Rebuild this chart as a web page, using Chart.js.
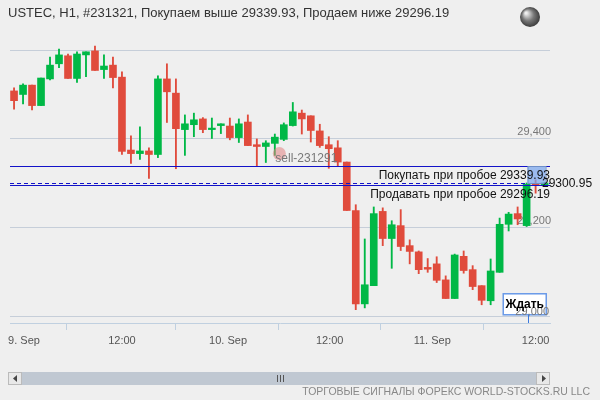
<!DOCTYPE html>
<html><head><meta charset="utf-8">
<script src="https://cdn.jsdelivr.net/npm/chart.js@4.4.1/dist/chart.umd.min.js"></script>
<style>html,body{margin:0;padding:0;background:#efefef}#w{width:600px;height:400px;position:relative}</style>
</head><body><div id="w"><canvas id="c" width="600" height="400"></canvas></div>
<script>
const opens  = [29508,29500,29521,29475,29535,29569,29587,29536,29589,29598,29556,29566,29539,29375,29367,29373,29365,29535,29503,29421,29432,29445,29421,29430,29429,29403,29438,29387,29383,29390,29399,29430,29458,29452,29418,29387,29380,29348,29239,29029,29070,29237,29176,29205,29160,29146,29111,29119,29083,29041,29136,29106,29070,29036,29100,29208,29232,29205,29299,29297];
const highs  = [29515,29524,29521,29537,29584,29602,29591,29596,29596,29609,29589,29584,29551,29407,29427,29380,29542,29569,29535,29454,29458,29448,29447,29434,29447,29445,29454,29400,29396,29411,29436,29482,29465,29452,29433,29405,29396,29348,29252,29175,29247,29245,29216,29241,29173,29148,29131,29135,29092,29141,29148,29115,29070,29130,29222,29235,29247,29301,29308,29302];
const lows   = [29467,29479,29465,29475,29533,29560,29536,29527,29540,29554,29536,29515,29365,29345,29354,29311,29358,29437,29333,29363,29405,29414,29401,29412,29398,29392,29385,29338,29347,29363,29396,29429,29411,29393,29381,29334,29338,29239,29016,29020,29070,29160,29109,29149,29119,29097,29100,29077,29041,29041,29098,29061,29027,29027,29100,29193,29207,29203,29278,29295];
const closes = [29486,29521,29475,29537,29566,29589,29536,29591,29596,29554,29564,29538,29372,29367,29373,29365,29535,29506,29423,29434,29443,29421,29423,29434,29403,29434,29385,29383,29391,29404,29432,29461,29445,29419,29385,29378,29348,29239,29029,29072,29232,29176,29207,29158,29147,29106,29107,29082,29041,29139,29104,29068,29037,29103,29208,29231,29220,29298,29295,29301];
const tickIdx = [-0.44,12,23.8,35.1,46.5,58];
const tickLabels = ["9. Sep","12:00","10. Sep","12:00","11. Sep","12:00"];
const yTicks = [29000,29200,29400,29600];
const buyLevel = 29339.93, sellLevel = 29296.19, lastPrice = 29300.95;
const titleText = "USTEC, H1, #231321, Покупаем выше 29339.93, Продаем ниже 29296.19";

const RED='#e04b3c', GREEN='#00b846';
const idx = opens.map((_,i)=>i);
const cols = idx.map(i=> closes[i]>=opens[i]?GREEN:RED);

const overlay = {
  id:'overlay',
  beforeDraw(ch){
    const c=ch.ctx; c.save(); c.fillStyle='#efefef'; c.fillRect(0,0,600,400); c.restore();
  },
  afterDraw(ch){
    const c=ch.ctx, x=ch.scales.x, y=ch.scales.y, a=ch.chartArea;
    c.save();
    c.strokeStyle='#1212c8'; c.lineWidth=1.2;
    const yb=Math.round(y.getPixelForValue(buyLevel))+0.5, ys=Math.round(y.getPixelForValue(sellLevel))+0.5, yl=Math.round(y.getPixelForValue(lastPrice))+0.5;
    c.beginPath(); c.moveTo(a.left,yb); c.lineTo(a.right,yb); c.stroke();
    c.beginPath(); c.moveTo(a.left,ys); c.lineTo(a.right,ys); c.stroke();
    c.setLineDash([4,3]); c.beginPath(); c.moveTo(a.left,yl); c.lineTo(a.right,yl); c.stroke(); c.setLineDash([]);
    const bx=x.getPixelForValue(57.1);
    c.fillStyle='rgba(120,165,240,0.7)'; c.strokeStyle='#6f8fc8'; c.lineWidth=1;
    c.fillRect(bx,yb,18,yl-yb); c.strokeRect(bx+0.5,yb,18,yl-yb);
    c.font='12px "Liberation Sans", Arial, sans-serif'; c.fillStyle='#111'; c.textBaseline='middle';
    c.textAlign='right';
    c.fillText('Покупать при пробое 29339.93', a.right, yb+9);
    c.fillText('Продавать при пробое 29296.19', a.right, ys+9);
    c.textAlign='left';
    c.fillText('29300.95', a.right-8, yl);
    const sx=x.getPixelForValue(29.5);
    c.fillStyle='rgba(225,130,130,0.55)'; c.beginPath(); c.arc(sx,y.getPixelForValue(29367),6.5,0,Math.PI*2); c.fill();
    c.fillStyle='#777'; c.font='12px "Liberation Sans", Arial, sans-serif';
    c.fillText('sell-231291', sx-4, y.getPixelForValue(29355));
    const wx=x.getPixelForValue(54.4), wy=y.getPixelForValue(29000)-23;
    c.fillStyle='#fff'; c.fillRect(wx,wy,43,21);
    c.strokeStyle='#6a9ae8'; c.lineWidth=1.5; c.strokeRect(wx,wy,43,21);
    c.fillStyle='#777'; c.font='11px "Liberation Sans", Arial, sans-serif'; c.textAlign='right';
    c.fillText('29,000', a.right-1, y.getPixelForValue(29000)-5);
    c.fillStyle='#000'; c.font='bold 12px "Liberation Sans", Arial, sans-serif'; c.textAlign='center';
    c.fillText('Ждать', wx+21.5, wy+11);
    const lx=Math.round(x.getPixelForValue(57.1))+0.5;
    c.strokeStyle='#3a7ae0'; c.lineWidth=1; c.beginPath(); c.moveTo(lx,wy+21); c.lineTo(lx,a.bottom); c.stroke();
    c.fillStyle='#555'; c.font='11px "Liberation Sans", Arial, sans-serif';
    tickIdx.forEach((v,i)=>{
      const px=x.getPixelForValue(v);
      c.textAlign = i===0?'left':'center';
      c.fillText(tickLabels[i], i===0?px-2:px, a.bottom+18);
    });
    c.textAlign='left'; c.fillStyle='#333'; c.font='13px "Liberation Sans", Arial, sans-serif';
    c.fillText(titleText, 8, 13);
    const g=c.createRadialGradient(526,13,1,530,17,11);
    g.addColorStop(0,'#eee'); g.addColorStop(0.5,'#777'); g.addColorStop(1,'#333');
    c.fillStyle=g; c.beginPath(); c.arc(530,17,10,0,Math.PI*2); c.fill();
    c.fillStyle='#c0c8d2'; c.fillRect(8,372,542,13);
    c.fillStyle='#e8e8e8'; c.strokeStyle='#bbb';
    c.fillRect(8,372,14,13); c.strokeRect(8.5,372.5,13,12);
    c.fillRect(536,372,14,13); c.strokeRect(536.5,372.5,13,12);
    c.fillStyle='#444';
    c.beginPath(); c.moveTo(17,375); c.lineTo(13,378.5); c.lineTo(17,382); c.fill();
    c.beginPath(); c.moveTo(542,375); c.lineTo(546,378.5); c.lineTo(542,382); c.fill();
    c.strokeStyle='#555'; c.beginPath();
    [277,280,283].forEach(v=>{c.moveTo(v+0.5,375); c.lineTo(v+0.5,382);}); c.stroke();
    c.fillStyle='#888'; c.font='10.5px "Liberation Sans", Arial, sans-serif'; c.textAlign='right';
    c.fillText('ТОРГОВЫЕ СИГНАЛЫ ФОРЕКС WORLD-STOCKS.RU LLC', 590, 392);
    c.restore();
  }
};

new Chart(document.getElementById('c'),{
  type:'bar',
  data:{datasets:[
    {data:idx.map(i=>({x:i,y:[lows[i],highs[i]]})),backgroundColor:cols,barThickness:1.2,grouped:false,order:2},
    {data:idx.map(i=>({x:i,y:[opens[i],closes[i]]})),backgroundColor:cols,barThickness:7,minBarLength:1.5,grouped:false,order:1}
  ]},
  options:{
    responsive:false,animation:false,devicePixelRatio:1,
    layout:{padding:{left:10,right:50,top:30,bottom:0}},
    plugins:{legend:{display:false},tooltip:{enabled:false}},
    scales:{
      x:{type:'linear',min:-0.45,max:59.6,offset:false,
        afterFit(s){s.height=77;},
        afterBuildTicks(s){s.ticks=tickIdx.map(v=>({value:v}));},
        grid:{display:true,drawOnChartArea:false,drawTicks:true,tickLength:7,color:'#c0d0e0'},
        border:{display:true,color:'#c0d0e0'},
        ticks:{display:false}},
      y:{position:'right',min:28986,max:29645,
        afterFit(s){s.width=0;},
        afterBuildTicks(s){s.ticks=yTicks.map(v=>({value:v}));},
        grid:{color:'#c6ced9',drawTicks:false},
        border:{display:false},
        ticks:{mirror:true,padding:1,labelOffset:-7,color:'#777',font:{size:11,family:'"Liberation Sans", Arial, sans-serif'},
          callback:v=> (v===29400||v===29200)? v.toLocaleString('en-US'):''}}
    }
  },
  plugins:[overlay]
});
</script></body></html>
